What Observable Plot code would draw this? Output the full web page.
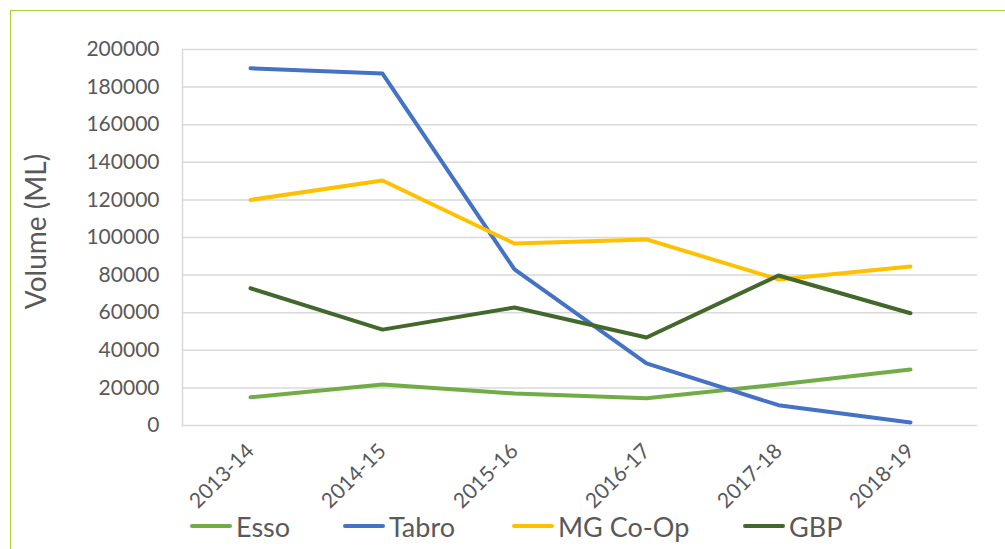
<!DOCTYPE html>
<html>
<head>
<meta charset="utf-8">
<script src="https://cdn.jsdelivr.net/npm/d3@7"></script>
<script src="https://cdn.jsdelivr.net/npm/@observablehq/plot@0.6"></script>
<style>
  html, body { margin: 0; padding: 0; background: #fff; width: 1005px; height: 549px; overflow: hidden; }
  #border { position: absolute; left: 10px; top: 10px; width: 1010px; height: 560px; border: 1.5px solid #A9D23A; box-sizing: border-box; }
  #chart { position: absolute; left: 0; top: 0; }
  #legend { position: absolute; top: 506px; left: 0; width: 1005px; height: 40px; font-family: Lato, "Open Sans", sans-serif; font-size: 27px; color: #595959; }
  .item { position: absolute; top: 0; display: flex; align-items: center; height: 40px; }
  .sw { width: 42px; height: 4px; border-radius: 2px; margin-right: 4px; }
</style>
</head>
<body>
<div id="border"></div>
<div id="chart"></div>
<div id="legend"></div>
<script>
const years = ["2013-14", "2014-15", "2015-16", "2016-17", "2017-18", "2018-19"];
const seriesNames = ["Esso", "Tabro", "MG Co-Op", "GBP"];
const colors = ["#70AD47", "#4472C4", "#FFC000", "#43682B"];
const esso  = [15000, 21800, 17000, 14500, 21800, 29800];
const tabro = [190000, 187200, 83000, 33000, 10800, 1600];
const mgcoop = [120000, 130300, 96800, 99000, 77700, 84600];
const gbp   = [73000, 51000, 62800, 46800, 79800, 59700];
const yTicks = [0, 20000, 40000, 60000, 80000, 100000, 120000, 140000, 160000, 180000, 200000];

const seriesValues = [esso, tabro, mgcoop, gbp];
const rows = [];
seriesNames.forEach((s, i) => years.forEach((y, j) => rows.push({series: s, year: y, value: seriesValues[i][j]})));

const font = "Lato, 'Open Sans', sans-serif";
const chart = Plot.plot({
  width: 1005,
  height: 500,
  marginLeft: 182,
  marginRight: 28,
  marginTop: 49,
  marginBottom: 75,
  style: {fontFamily: font, background: "transparent", overflow: "visible"},
  x: {type: "point", domain: years, padding: 0.5},
  y: {domain: [0, 200000]},
  color: {domain: seriesNames, range: colors},
  marks: [
    Plot.gridY(yTicks, {stroke: "#D9D9D9", strokeOpacity: 1, strokeWidth: 1.5}),
    Plot.frame({anchor: "left", stroke: "#D9D9D9", strokeWidth: 1.5}),
    Plot.axisY(yTicks, {tickSize: 0, tickPadding: 23, tickFormat: d => String(d), fontSize: 21, fill: "#595959", label: null}),
    Plot.axisX({tickSize: 0, tickRotate: -45, tickPadding: 22, fontSize: 21, fill: "#595959", label: null}),
    Plot.text(["Volume (ML)"], {frameAnchor: "left", textAnchor: "middle", rotate: -90, dx: -145, dy: -6, fontSize: 28, fill: "#595959"}),
    Plot.line(rows, {x: "year", y: "value", z: "series", stroke: "series", strokeWidth: 4, strokeLinecap: "round", strokeLinejoin: "round"})
  ]
});
document.getElementById("chart").appendChild(chart);

const legend = document.getElementById("legend");
const lefts = [190, 343, 512, 743];
seriesNames.forEach((s, i) => {
  const d = document.createElement("div");
  d.className = "item";
  d.style.left = lefts[i] + "px";
  d.innerHTML = `<span class="sw" style="background:${colors[i]}"></span><span>${s}</span>`;
  legend.appendChild(d);
});
</script>
</body>
</html>
